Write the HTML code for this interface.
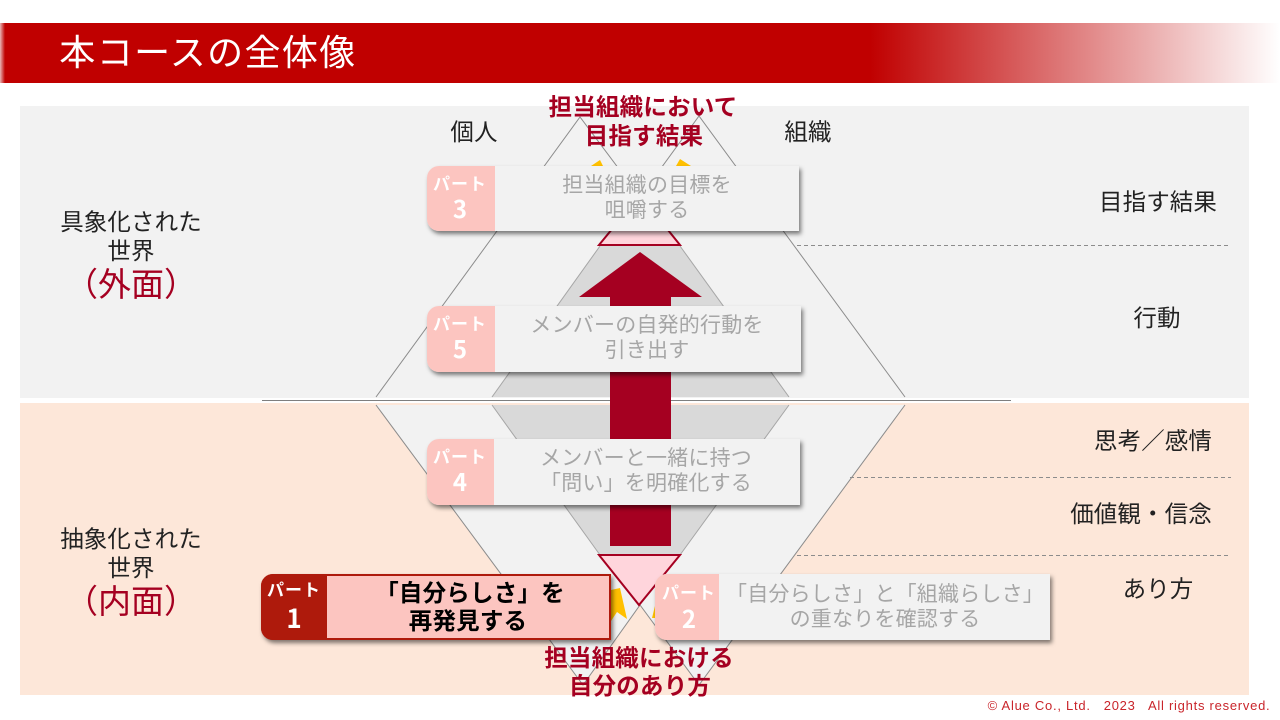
<!DOCTYPE html>
<html lang="ja"><head><meta charset="utf-8"><title>本コースの全体像</title>
<style>
html,body{margin:0;padding:0;background:#fff}
#p{position:relative;width:1280px;height:720px;overflow:hidden;background:#fff;font-family:"Liberation Sans","Noto Sans CJK JP",sans-serif}
#p div{position:absolute}
svg{position:absolute;left:0;top:0}
.t{white-space:nowrap;text-align:center;transform:translateX(-50%);line-height:30px;height:30px;color:#222;margin-top:1px}
.m{font-size:23.5px;letter-spacing:.1px}
.c{background:#f2f2f2;border-radius:12px 0 0 12px;box-shadow:2px 3px 4px rgba(0,0,0,.5);height:66px}
.tab{left:0;top:0;height:66px;background:#fcc5c0;border-radius:12px 0 0 12px}
.g{font-size:21px;letter-spacing:.2px;color:#a6a6a6}
.w{color:#fff;font-weight:700;font-family:"Noto Sans CJK JP",sans-serif}
.r{color:#a50021;font-weight:700;font-size:23.5px;letter-spacing:.2px;margin-top:0}
.b{color:#000;font-weight:700;font-size:23.5px;letter-spacing:.2px}
</style></head><body><div id="p">
<div style="left:0;top:23px;width:1280px;height:60px;background:linear-gradient(90deg,#e9b5b5 0,#c00000 5px,#c00000 870px,#fff 1280px)"></div>
<div class="t" style="left:208px;top:33px;height:38px;line-height:38px;font-size:36px;letter-spacing:1.4px;color:#fff">本コースの全体像</div>

<div style="left:20px;top:106px;width:1229px;height:292px;background:#f2f2f2"></div>
<div style="left:20px;top:403px;width:1229px;height:292px;background:#fde7d9"></div>

<svg width="1280" height="720">
<polygon points="376,405 583,685 640,605 699,685 905,405" fill="#f2f2f2"/>
<polygon points="492,397 600,246 680,246 789,397" fill="#d9d9d9"/>
<polygon points="492,405 789,405 680,555 600,555" fill="#d9d9d9"/>
<g fill="none" stroke="#a6a6a6" stroke-width="1">
<polyline points="492,397 600,246"/><polyline points="680,246 789,397"/>
<polyline points="492,405 600,555"/><polyline points="789,405 680,555"/>
</g>
<polygon points="611,590 620,588 627,619 617,612 611,621" fill="#ffc000"/>
<polygon points="652,618 655,606 660,606 660,618" fill="#ffc000"/>
<polygon points="591,166 600,160 603,166" fill="#ffc000"/>
<polygon points="676,166 680,159 691,166" fill="#ffc000"/>
<g fill="none" stroke="#8c8c8c" stroke-width="1">
<polyline points="376,397 580,117 640,197 699,116 905,397"/>
<polyline points="376,405 583,685 640,605 699,685 905,405"/>
<line x1="262" y1="400.5" x2="1011" y2="400.5" stroke="#7f7f7f"/>
<g stroke-dasharray="4 3"><line x1="797" y1="245.5" x2="1230" y2="245.5"/><line x1="850" y1="477.5" x2="1231" y2="477.5"/><line x1="797" y1="555.5" x2="1231" y2="555.5"/></g>
</g>
<polygon points="640,195 680,245 599,245" fill="#ffd5dc" stroke="#a50021" stroke-width="2"/>
<polygon points="599,555 680,555 639,605" fill="#ffd5dc" stroke="#a50021" stroke-width="2"/>
<polygon points="640,252 702,297 671,297 671,546 610,546 610,297 579,297" fill="#a50021"/>
</svg>

<div class="t m" style="left:474px;top:116px">個人</div>
<div class="t m" style="left:808px;top:116px">組織</div>
<div class="t m" style="left:1158px;top:186px">目指す結果</div>
<div class="t m" style="left:1157px;top:302px">行動</div>
<div class="t m" style="left:1153px;top:425px">思考／感情</div>
<div class="t m" style="left:1141px;top:498px">価値観・信念</div>
<div class="t m" style="left:1158px;top:573px">あり方</div>
<div class="t m" style="left:131px;top:206px">具象化された</div>
<div class="t m" style="left:131px;top:235px">世界</div>
<div class="t" style="left:131px;top:268px;height:32px;line-height:32px;font-size:33px;color:#a50021">（外面）</div>
<div class="t m" style="left:131px;top:523px">抽象化された</div>
<div class="t m" style="left:131px;top:552px">世界</div>
<div class="t" style="left:131px;top:585px;height:32px;line-height:32px;font-size:33px;color:#a50021">（内面）</div>

<div class="c" style="left:427px;top:166px;width:372px;height:65px"><div class="tab" style="width:68px;height:65px"></div></div>
<div class="t w" style="left:460px;top:167px;font-size:17px;letter-spacing:1px">パート</div>
<div class="t w" style="left:460px;top:192px;font-size:24px">3</div>
<div class="t g" style="left:647px;top:170px">担当組織の目標を</div>
<div class="t g" style="left:647px;top:195px">咀嚼する</div>

<div class="c" style="left:427px;top:306px;width:374px"><div class="tab" style="width:68px"></div></div>
<div class="t w" style="left:460px;top:307px;font-size:17px;letter-spacing:1px">パート</div>
<div class="t w" style="left:460px;top:332px;font-size:24px">5</div>
<div class="t g" style="left:647px;top:310px">メンバーの自発的行動を</div>
<div class="t g" style="left:647px;top:335px">引き出す</div>

<div class="c" style="left:427px;top:439px;width:373px"><div class="tab" style="width:67px"></div></div>
<div class="t w" style="left:460px;top:440px;font-size:17px;letter-spacing:1px">パート</div>
<div class="t w" style="left:460px;top:465px;font-size:24px">4</div>
<div class="t g" style="left:646px;top:443px">メンバーと一緒に持つ</div>
<div class="t g" style="left:646px;top:468px">「問い」を明確化する</div>

<div class="c" style="left:655px;top:574px;width:395px"><div class="tab" style="width:64px"></div></div>
<div class="t w" style="left:689px;top:576px;font-size:17px;letter-spacing:1px">パート</div>
<div class="t w" style="left:689px;top:602px;font-size:24px">2</div>
<div class="t g" style="left:885px;top:579px">「自分らしさ」と「組織らしさ」</div>
<div class="t g" style="left:885px;top:604px">の重なりを確認する</div>

<div class="c" style="left:261px;top:574px;width:350px;background:#fcc5c0;box-sizing:border-box;border:2px solid #ae1a0c"><div class="tab" style="left:-2px;top:-2px;width:66px;background:#ae1a0c"></div></div>
<div class="t w" style="left:294px;top:573px;font-size:17px;letter-spacing:1px">パート</div>
<div class="t w" style="left:294px;top:602px;font-size:26px">1</div>
<div class="t b" style="left:470px;top:577px">「自分らしさ」を</div>
<div class="t b" style="left:468px;top:605px">再発見する</div>

<div class="t r" style="left:643px;top:92px">担当組織において</div>
<div class="t r" style="left:644px;top:121px">目指す結果</div>
<div class="t r" style="left:639px;top:643px">担当組織における</div>
<div class="t r" style="left:640px;top:671px">自分のあり方</div>

<div class="t" style="left:1129px;top:695px;height:20px;line-height:20px;font-size:13px;letter-spacing:.74px;color:#c9252b;white-space:pre">© Alue Co., Ltd.   2023   All rights reserved.</div>
</div></body></html>
